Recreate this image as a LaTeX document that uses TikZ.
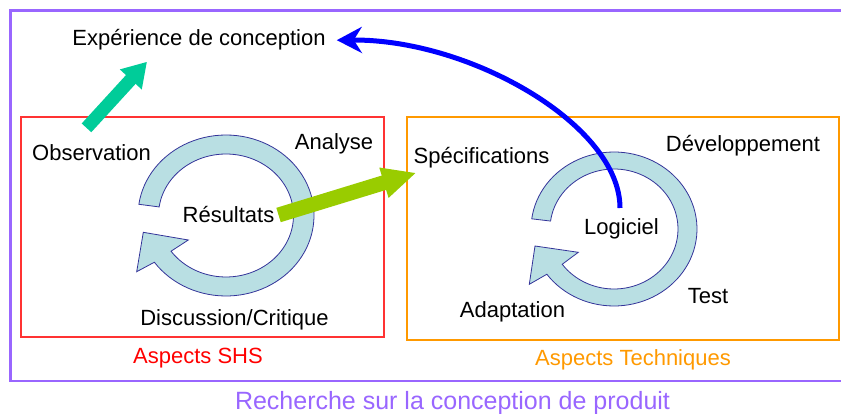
\documentclass[tikz,border=0pt]{standalone}
\usepackage{fontspec}
\setmainfont{Liberation Sans}
\usetikzlibrary{arrows.meta}
\definecolor{frameviolet}{RGB}{153,102,255}
\definecolor{shsred}{RGB}{255,51,51}
\definecolor{shstext}{RGB}{255,0,0}
\definecolor{techorange}{RGB}{255,153,0}
\definecolor{ringfill}{RGB}{185,223,227}
\definecolor{ringline}{RGB}{51,51,153}
\definecolor{tealarrow}{RGB}{0,204,153}
\definecolor{limearrow}{RGB}{153,204,0}
\begin{document}
\begin{tikzpicture}[x=1pt,y=-1pt,
  lbl/.style={font=\fontsize{22}{26}\selectfont, inner sep=2pt, anchor=base},
  bigarrow/.style={line width=#1, line cap=butt},
  ringshape/.style={fill=ringfill, draw=ringline, line width=0.8pt, line join=miter}]
\useasboundingbox (0,0) rectangle (841,414);
\clip (0,0) rectangle (841,414);
% frames
\draw[frameviolet, line width=2.5pt] (10.5,10.5) rectangle (870,381);
\draw[shsred, line width=1.5pt] (21,117) rectangle (384,337);
\draw[techorange, line width=2pt] (407,117) rectangle (839,339.5);
% left cycle ring
\draw[ringshape]
  plot[domain=188:504.5, samples=90] ({226+88*cos(\x)},{215.5+80.5*sin(\x)})
  -- (136.7,271.7) -- (143.3,232.3) -- (188.3,240)
  -- plot[domain=504.5:188, samples=90] ({226+67.5*cos(\x)},{215.5+61.5*sin(\x)})
  -- cycle;
% right cycle ring
\draw[ringshape]
  plot[domain=187.6:504, samples=90] ({614+83*cos(\x)},{229+77*sin(\x)})
  -- (529.3,284.3) -- (535,246) -- (578.3,252.3)
  -- plot[domain=504:187.6, samples=90] ({614+64*cos(\x)},{229+60*sin(\x)})
  -- cycle;
% labels
\node[lbl] (exp) at (199,46) {Expérience de conception};
\node[lbl] (obs) at (91.5,161) {Observation};
\node[lbl] (analyse) at (334,150) {Analyse};
\node[lbl] (resultats) at (228.5,223) {Résultats};
\node[lbl] (discussion) at (234.5,325) {Discussion/Critique};
\node[lbl] (spec) at (481.5,164) {Spécifications};
\node[lbl] (dev) at (743,152) {Développement};
\node[lbl] (logiciel) at (621.5,235) {Logiciel};
\node[lbl] (test) at (708,303) {Test};
\node[lbl] (adapt) at (512.5,317) {Adaptation};
\node[lbl, text=shstext] (shs) at (198,363) {Aspects SHS};
\node[lbl, text=techorange] (tech) at (633,365) {Aspects Techniques};
\node[lbl, font=\fontsize{25}{30}\selectfont, text=frameviolet] (recherche) at (452.5,409) {Recherche sur la conception de produit};
% arrows
\draw[bigarrow=13pt, tealarrow, -{Triangle[length=24pt,width=28pt]}]
  ([shift={(-5,-15)}]obs.north) -- ([shift={(-52,9)}]exp.south);
\draw[bigarrow=15pt, limearrow, -{Triangle[length=34pt,width=29pt]}]
  ([shift={(2,0)}]resultats.east) -- ([shift={(5,2)}]spec.south west);
\coordinate (bstart) at (620,208);
\draw[blue, line width=5pt, -{Stealth[length=25pt,width=26pt,inset=8pt]}]
  (bstart) .. controls (620,125) and (470,39) .. ([xshift=9pt]exp.east);
\end{tikzpicture}
\end{document}
